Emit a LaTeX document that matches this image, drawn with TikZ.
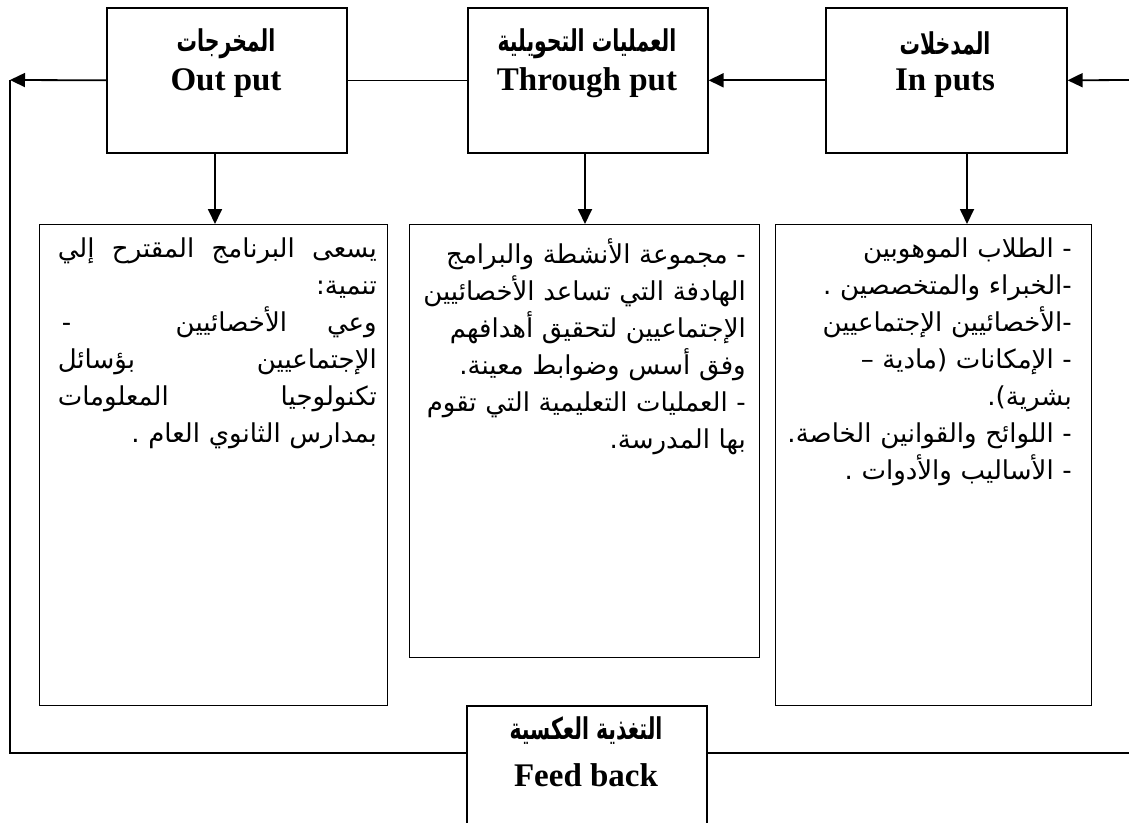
\documentclass[tikz,border=0pt]{standalone}
\usepackage{fontspec}
\setmainfont{Liberation Serif}
\newfontfamily\arabicfont[Script=Arabic]{DejaVu Sans}
\newfontfamily\artitle[Script=Arabic,FakeStretch=0.68]{DejaVu Sans Bold}
\TeXXeTstate=1
\usetikzlibrary{arrows.meta}
\newcommand{\ar}[1]{\beginR #1\endR}
\newcommand{\fullline}[1]{\leavevmode\hbox to \linewidth{#1}}
\begin{document}
\begin{tikzpicture}[x=1pt,y=-1pt,
  topbox/.style={draw, line width=1.6pt, minimum width=240pt, minimum height=145pt, inner sep=0pt, anchor=north west},
  lowbox/.style={draw, line width=1.4pt, inner sep=0pt, anchor=north west},
  conn/.style={line width=1.8pt},
  arr/.style={line width=1.8pt, -{Triangle[length=15pt,width=14pt]}},
  titlear/.style={font=\artitle\fontsize{30}{32}\selectfont, inner sep=0pt},
  titleen/.style={font=\bfseries\fontsize{33}{36}\selectfont, inner sep=0pt},
  body/.style={font=\arabicfont\fontsize{26}{37}\selectfont, align=right, inner sep=0pt, anchor=north east}
]
\useasboundingbox (0,0) rectangle (1129,822);
\fill[white] (0,0) rectangle (1129,822);

% top boxes
\node[topbox] (outtop) at (106,7) {};
\node[topbox] (thrtop) at (467,7) {};
\node[topbox, minimum width=241pt] (intop) at (825,7) {};

\node[titlear] (outar) at (226,44) {\ar{المخرجات}};
\node[titleen] (outen) at (226,83) {Out put};
\node[titlear] (thrar) at (587,44) {\ar{العمليات التحويلية}};
\node[titleen] (thren) at (587,83) {Through put};
\node[titlear] (inar) at (945,44) {\ar{المدخلات}};
\node[titleen] (inen) at (945,83) {In puts};

% lower boxes
\node[lowbox, minimum width=348pt, minimum height=481pt] (outlow) at (39,224) {};
\node[lowbox, minimum width=350pt, minimum height=433pt] (thrlow) at (409,224) {};
\node[lowbox, minimum width=316pt, minimum height=481pt] (inlow) at (775,224) {};

\node[body, text width=300pt] (intxt) at (1072,238) {%
\ar{- الطلاب الموهوبين}\\
\ar{-الخبراء والمتخصصين .}\\
\ar{-الأخصائيين الإجتماعيين}\\
\ar{- الإمكانات (مادية –}\\
\ar{بشرية).}\\
\ar{- اللوائح والقوانين الخاصة.}\\
\ar{- الأساليب والأدوات .}};

\node[body, text width=330pt] (thrtxt) at (746,238) {%
\ar{- مجموعة الأنشطة والبرامج}\\
\ar{الهادفة التي تساعد الأخصائيين}\\
\ar{الإجتماعيين لتحقيق أهدافهم}\\
\ar{وفق أسس وضوابط معينة.}\\
\ar{- العمليات التعليمية التي تقوم}\\
\ar{بها المدرسة.}};

\node[body, text width=319pt] (outtxt) at (377,238) {%
\fullline{\ar{إلي}\hfill\ar{المقترح}\hfill\ar{البرنامج}\hfill\ar{يسعى}}\\
\ar{تنمية:}\\
\fullline{\hspace{4pt}-\hfill\ar{الأخصائيين}\hspace{40pt}\ar{وعي}}\\
\fullline{\ar{بؤسائل}\hfill\ar{الإجتماعيين}}\\
\fullline{\ar{المعلومات}\hfill\ar{تكنولوجيا}}\\
\ar{بمدارس الثانوي العام .}};

% feedback box
\node[lowbox, line width=1.6pt, minimum width=240pt, minimum height=140pt] (fb) at (466,705) {};
\node[titlear] (fbar) at (586,731) {\ar{التغذية العكسية}};
\node[titleen] (fben) at (586,775) {Feed back};

% connectors
\coordinate (rin) at (1129,80);
\coordinate (lout) at (10,80);
\coordinate (lfb) at (10,753);
\coordinate (rfb) at (1129,753);
\coordinate (ax1) at (215,0);
\coordinate (ax2) at (585,0);
\coordinate (ax3) at (967,0);

\draw[arr] (rin) -- (intop.east);
\draw[arr] (intop.west) -- (thrtop.east);
\draw[line width=1.3pt] (thrtop.west) -- (outtop.east);
\draw[arr] (outtop.west) -- (lout);
\draw[conn] (lout) -- (lfb) -- (lfb -| fb.west);
\draw[conn] (rfb -| fb.east) -- (rfb);

\draw[arr] (outtop.south -| ax1) -- (outlow.north -| ax1);
\draw[arr] (thrtop.south -| ax2) -- (thrlow.north -| ax2);
\draw[arr] (intop.south -| ax3) -- (inlow.north -| ax3);
\end{tikzpicture}
\end{document}
